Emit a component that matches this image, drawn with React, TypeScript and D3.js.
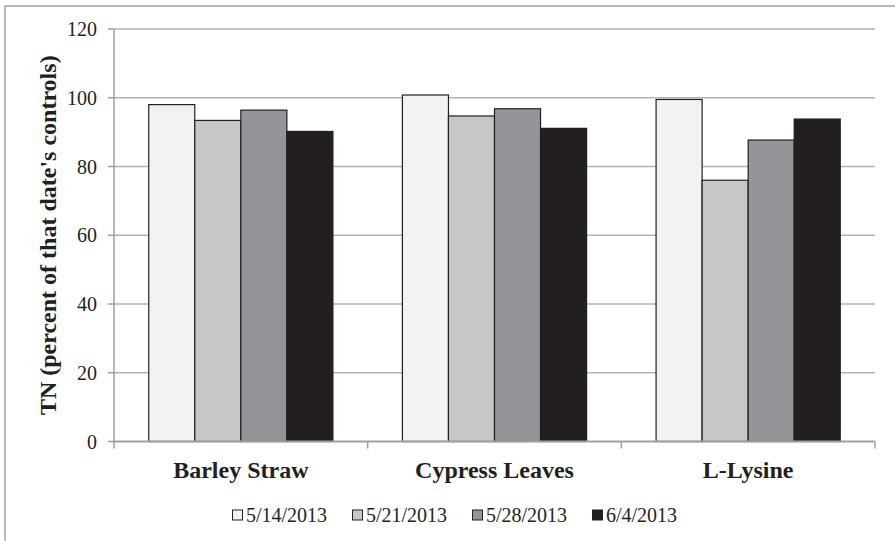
import React from "react";
import * as d3 from "d3";

const categories = ["Barley Straw", "Cypress Leaves", "L-Lysine"];
const seriesNames = ["5/14/2013", "5/21/2013", "5/28/2013", "6/4/2013"];
const s1 = [98.0, 100.8, 99.5];
const s2 = [93.4, 94.7, 76.0];
const s3 = [96.4, 96.8, 87.7];
const s4 = [90.2, 91.1, 93.8];
const seriesValues = [s1, s2, s3, s4];
const yTicks = [0, 20, 40, 60, 80, 100, 120];
const colors = ["#f1f2f4", "#c6c7c9", "#939598", "#231f20"];
const yTitle = "TN (percent of that date's controls)";

const W = 895;
const H = 541;
const plot = { left: 114, right: 875, top: 29, bottom: 441.5 };
const font = "'Liberation Serif', 'Times New Roman', serif";

export default function App() {
  const x0 = d3
    .scaleBand<string>()
    .domain(categories)
    .range([plot.left, plot.right])
    .paddingInner(0.274)
    .paddingOuter(0.137);
  const band = d3
    .scaleBand<string>()
    .domain(seriesNames)
    .range([0, x0.bandwidth()])
    .padding(0);
  const y = d3.scaleLinear().domain([0, 120]).range([plot.bottom, plot.top]);
  const step = (plot.right - plot.left) / categories.length;
  const catEdges = d3.range(categories.length + 1).map((i) => plot.left + i * step);

  return (
    <svg
      width={W}
      height={H}
      style={{ position: "absolute", left: 0, top: 0, display: "block", fontFamily: font }}
    >
      <rect x={0} y={0} width={W} height={H} fill="#ffffff" />
      <rect x={5} y={6} width={W + 20} height={H + 20} fill="none" stroke="#a3a3a3" strokeWidth={1.5} />
      {yTicks.filter((t) => t > 0).map((t) => (
        <line key={"g" + t} x1={plot.left} x2={plot.right} y1={y(t)} y2={y(t)} stroke="#b1b3b6" strokeWidth={1.5} />
      ))}
      {yTicks.map((t) => (
        <g key={"t" + t}>
          <line x1={plot.left - 6} x2={plot.left} y1={y(t)} y2={y(t)} stroke="#9d9fa2" strokeWidth={1.5} />
          <text x={97} y={y(t) + 7} textAnchor="end" fontSize={20} fill="#231f20">
            {t}
          </text>
        </g>
      ))}
      {seriesValues.map((vals, si) =>
        categories.map((c, ci) => (
          <rect
            key={si + "-" + ci}
            x={(x0(c) as number) + (band(seriesNames[si]) as number)}
            y={y(vals[ci])}
            width={band.bandwidth()}
            height={plot.bottom - y(vals[ci])}
            fill={colors[si]}
            stroke="#231f20"
            strokeWidth={1.2}
          />
        ))
      )}
      <line x1={plot.left} x2={plot.left} y1={plot.top} y2={plot.bottom} stroke="#9d9fa2" strokeWidth={1.5} />
      <line x1={plot.left} x2={plot.right} y1={plot.bottom} y2={plot.bottom} stroke="#9d9fa2" strokeWidth={1.8} />
      {catEdges.map((xv, i) => (
        <line key={"ct" + i} x1={xv} x2={xv} y1={plot.bottom} y2={plot.bottom + 7} stroke="#9d9fa2" strokeWidth={1.5} />
      ))}
      {categories.map((c) => (
        <text
          key={"cl" + c}
          x={(x0(c) as number) + x0.bandwidth() / 2}
          y={478}
          textAnchor="middle"
          fontSize={24}
          fontWeight="bold"
          fill="#231f20"
        >
          {c}
        </text>
      ))}
      <text
        transform={`translate(56, ${(plot.top + plot.bottom) / 2}) rotate(-90)`}
        textAnchor="middle"
        fontSize={24}
        fontWeight="bold"
        fill="#231f20"
      >
        {yTitle}
      </text>
      {seriesNames.map((s, i) => (
        <g key={"lg" + s} transform={`translate(${232 + i * 120}, 515)`}>
          <rect x={0.5} y={-5} width={10} height={10} fill={colors[i]} stroke="#231f20" strokeWidth={1} />
          <text x={14} y={7} fontSize={20} fill="#231f20">
            {s}
          </text>
        </g>
      ))}
    </svg>
  );
}
